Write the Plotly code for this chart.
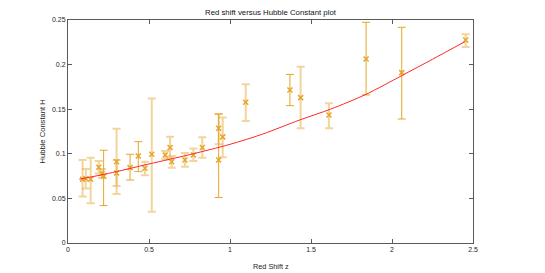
import plotly.graph_objects as go

# Light (semi-transparent error bars) series
z_light = [0.09, 0.11, 0.14, 0.19, 0.21, 0.30, 0.30, 0.475, 0.517, 0.60, 0.63, 0.64,
           0.722, 0.774, 0.829, 0.93, 0.955, 1.097, 1.436, 1.611, 2.455]
h_light = [0.0714, 0.072, 0.0714, 0.085, 0.078, 0.091, 0.0785, 0.0837, 0.0995, 0.0987, 0.107, 0.091,
           0.093, 0.0987, 0.107, 0.1286, 0.119, 0.1577, 0.163, 0.1435, 0.2276]
hi_light = [0.093, 0.083, 0.0956, 0.092, 0.083, 0.128, 0.093, 0.091, 0.162, 0.103, 0.119, 0.0975,
            0.101, 0.106, 0.1185, 0.1446, 0.1407, 0.178, 0.1977, 0.1566, 0.234]
lo_light = [0.052, 0.061, 0.0445, 0.078, 0.073, 0.055, 0.064, 0.076, 0.035, 0.094, 0.095, 0.0845,
            0.0855, 0.092, 0.0956, 0.1106, 0.096, 0.1368, 0.1286, 0.1286, 0.2197]

# Dark (solid error bars) series
z_dark = [0.22, 0.383, 0.434, 0.93, 1.370, 1.840, 2.06]
h_dark = [0.075, 0.0845, 0.0975, 0.093, 0.1715, 0.2063, 0.191]
hi_dark = [0.104, 0.0995, 0.1136, 0.1446, 0.189, 0.2474, 0.2418]
lo_dark = [0.042, 0.0706, 0.080, 0.051, 0.154, 0.166, 0.139]

# Fitted curve
z_fit = [0.07, 0.25, 0.5, 0.75, 1.0, 1.2, 1.43, 1.62, 1.84, 2.06, 2.25, 2.45]
h_fit = [0.0715, 0.078, 0.0886, 0.099, 0.1106, 0.122, 0.1379, 0.150, 0.1667, 0.1876, 0.206, 0.2257]

x_ticks = [0, 0.5, 1, 1.5, 2, 2.5]
x_ticklabels = ["0", "0.5", "1", "1.5", "2", "2.5"]
y_ticks = [0, 0.05, 0.1, 0.15, 0.2, 0.25]
y_ticklabels = ["0", "0.05", "0.1", "0.15", "0.2", "0.25"]

FONT = "Liberation Sans, Arial, sans-serif"
ORANGE = "rgb(230,165,40)"
LIGHT = "rgba(232,170,60,0.5)"

fig = go.Figure()

def add_series(z, h, hi, lo, bar_color, thick):
    fig.add_trace(go.Scatter(
        x=z, y=h, mode="markers",
        marker=dict(symbol="x-thin", size=5, color=ORANGE,
                    line=dict(color=ORANGE, width=1.5)),
        error_y=dict(type="data", symmetric=False,
                     array=[a - b for a, b in zip(hi, h)],
                     arrayminus=[b - c for b, c in zip(h, lo)],
                     color=bar_color, thickness=thick, width=4),
        showlegend=False, hoverinfo="skip"))

add_series(z_light, h_light, hi_light, lo_light, LIGHT, 2)
add_series(z_dark, h_dark, hi_dark, lo_dark, ORANGE, 1)

fig.add_trace(go.Scatter(x=z_fit, y=h_fit, mode="lines",
                         line=dict(color="rgb(255,40,40)", width=1, shape="spline", smoothing=0.8),
                         showlegend=False, hoverinfo="skip"))

axis_common = dict(showline=True, linecolor="#5a5a5a", linewidth=1, mirror="ticks",
                   ticks="inside", ticklen=4, tickcolor="#5a5a5a", showgrid=False, zeroline=False,
                   automargin=False,
                   tickfont=dict(family=FONT, size=7, color="#262626"))

# The page body adds an 8px offset, so the figure is sized/margined to compensate.
fig.update_layout(
    width=537, height=265,
    margin=dict(l=60, r=72, t=12, b=30),
    paper_bgcolor="white", plot_bgcolor="white",
    xaxis=dict(range=[0, 2.5], tickvals=x_ticks, ticktext=x_ticklabels, **axis_common),
    yaxis=dict(range=[0, 0.25], tickvals=y_ticks, ticktext=y_ticklabels, **axis_common),
    annotations=[
        dict(text="Red shift versus Hubble Constant plot", xref="paper", yref="paper", x=0.5, y=1,
             xanchor="center", yanchor="bottom", yshift=1, showarrow=False,
             font=dict(family=FONT, size=7.8, color="#111")),
        dict(text="Red Shift z", xref="paper", yref="paper", x=0.5, y=0,
             xanchor="center", yanchor="middle", yshift=-23, showarrow=False,
             font=dict(family=FONT, size=7.3, color="#262626")),
        dict(text="Hubble Constant H", xref="paper", yref="paper", x=0, y=0.5, textangle=-90,
             xanchor="center", yanchor="middle", xshift=-26, showarrow=False,
             font=dict(family=FONT, size=7.6, color="#262626")),
    ],
)

fig.write_html("out.html")
